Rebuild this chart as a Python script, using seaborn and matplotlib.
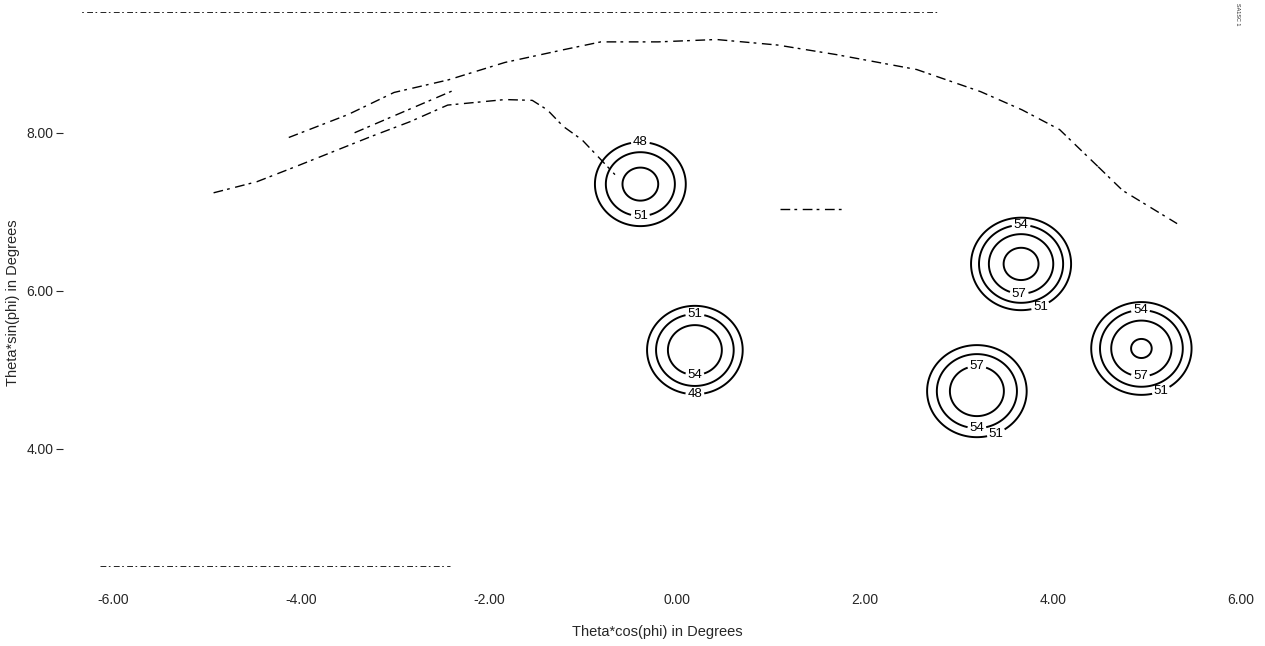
import matplotlib
matplotlib.use("Agg")
import matplotlib.pyplot as plt
import numpy as np
import pandas as pd
import seaborn as sns

# beams: centre (deg), peak gain (dB), roll-off (dB/deg^2), lowest ring drawn
beam_x = [-0.39, 0.19, 3.66, 3.19, 4.94]
beam_y = [7.35, 5.25, 6.34, 4.73, 5.27]
beam_peak = [55.1, 56.8, 61.25, 59.5, 60.4]
beam_rolloff = [30.4, 34.0, 36.2, 30.3, 33.0]
beam_floor = [48, 48, 51, 51, 51]
y_stretch = 1.1

levels = [48, 51, 54, 57, 60]

# ring numbers: which beam, which ring, and roughly where
label_beam = [0, 0, 1, 1, 1, 2, 2, 2, 3, 3, 3, 4, 4, 4]
label_level = [48, 51, 51, 54, 48, 54, 57, 51, 57, 54, 51, 54, 57, 51]
label_x = [-0.39, -0.39, 0.19, 0.19, 0.19, 3.66, 3.64, 3.86, 3.19, 3.19, 3.38, 4.93, 4.93, 5.14]
label_y = [7.91, 6.96, 5.75, 4.95, 4.66, 6.86, 5.97, 5.82, 5.05, 4.28, 4.24, 5.80, 4.96, 4.76]

# coverage outline fragments
outer_x = [-4.13, -3.50, -3.01, -2.43, -1.83, -1.21, -0.81, -0.20, 0.42, 1.07, 1.69, 2.55, 3.23, 3.67, 4.07, 4.48]
outer_y = [7.94, 8.23, 8.51, 8.67, 8.89, 9.05, 9.15, 9.15, 9.18, 9.11, 8.99, 8.80, 8.52, 8.29, 8.04, 7.57]
inner_x = [-4.93, -4.47, -4.06, -3.66, -3.26, -2.84, -2.44, -1.83, -1.54, -1.38, -1.21, -1.01, -0.81, -0.66]
inner_y = [7.24, 7.38, 7.57, 7.76, 7.95, 8.14, 8.35, 8.42, 8.41, 8.29, 8.08, 7.91, 7.66, 7.47]
middle_x = [-3.43, -2.94, -2.37]
middle_y = [8.00, 8.25, 8.54]
tail_x = [4.48, 4.74, 5.32]
tail_y = [7.57, 7.27, 6.85]
top_x = [-6.56, 2.80]
top_y = [9.53, 9.53]
bottom_x = [-6.14, -2.41]
bottom_y = [2.52, 2.52]
dash_x = [1.10, 1.79]
dash_y = [7.03, 7.03]

x_ticks = [-6, -4, -2, 0, 2, 4, 6]
x_tick_labels = ["-6.00", "-4.00", "-2.00", "0.00", "2.00", "4.00", "6.00"]
y_ticks = [4, 6, 8]
y_tick_labels = ["4.00", "6.00", "8.00"]

sns.set_style("white")
plt.rcParams['font.family'] = ['Liberation Sans', 'DejaVu Sans']

fig = plt.figure(figsize=(12.65, 6.46), dpi=100)
ax = fig.add_axes([80 / 1265, 66 / 646, 1182 / 1265, 580 / 646])

gx = np.linspace(-6.351, 6.223, 700)
gy = np.linspace(2.34, 9.68, 450)
GX, GY = np.meshgrid(gx, gy)

# one contour per beam and ring, so each number lands on its own ring
for i, (bx, by, peak, roll, floor) in enumerate(zip(beam_x, beam_y, beam_peak, beam_rolloff, beam_floor)):
    gain = peak - roll * ((GX - bx) ** 2 + ((GY - by) / y_stretch) ** 2)
    for lvl in levels:
        if lvl < floor or lvl > peak:
            continue
        cs = ax.contour(GX, GY, gain, levels=[lvl], colors="black", linewidths=1.4)
        spots = [(lx, ly) for b, l, lx, ly in zip(label_beam, label_level, label_x, label_y)
                 if b == i and l == lvl]
        if spots:
            cs.clabel(fmt="%d", fontsize=9.5, inline=True, inline_spacing=2, manual=spots)
            for t in cs.labelTexts:
                t.set_rotation(0)

# outline fragments
outline = pd.DataFrame({
    "x": outer_x + inner_x + middle_x + tail_x + top_x + bottom_x + dash_x,
    "y": outer_y + inner_y + middle_y + tail_y + top_y + bottom_y + dash_y,
    "part": (["outer"] * len(outer_x) + ["inner"] * len(inner_x) + ["middle"] * len(middle_x)
             + ["tail"] * len(tail_x) + ["top"] * len(top_x) + ["bottom"] * len(bottom_x)
             + ["dash"] * len(dash_x)),
})
for part, grp in outline.groupby("part"):
    lw = 0.6 if part in ("top", "bottom") else 1.0
    sns.lineplot(data=grp, x="x", y="y", sort=False, estimator=None, color="black",
                 linewidth=lw, linestyle=(0, (7, 3, 2, 4)), ax=ax, legend=False)

ax.set_xlim(-6.351, 6.223)
ax.set_ylim(2.34, 9.68)
ax.set_xticks(x_ticks)
ax.set_xticklabels(x_tick_labels)
ax.set_yticks(y_ticks)
ax.set_yticklabels(y_tick_labels)
ax.tick_params(axis="x", length=0, pad=9, labelsize=10)
ax.tick_params(axis="y", length=5, width=0.8, direction="out", left=True, pad=2, labelsize=10)
sns.despine(ax=ax, left=True, bottom=True)
ax.spines["left"].set_position(("outward", 12))

ax.set_xlabel("Theta*cos(phi) in Degrees", fontsize=10.5)
ax.set_ylabel("Theta*sin(phi) in Degrees", fontsize=10.5)
ax.xaxis.set_label_coords(0.488, -0.078)
ax.yaxis.set_label_coords(-0.051, 0.478)

fig.text(1237 / 1265, 1 - 14 / 646, "SA1SC 1", rotation=-90, fontsize=4,
         ha="center", va="center")

fig.savefig("out.png", dpi=100)
